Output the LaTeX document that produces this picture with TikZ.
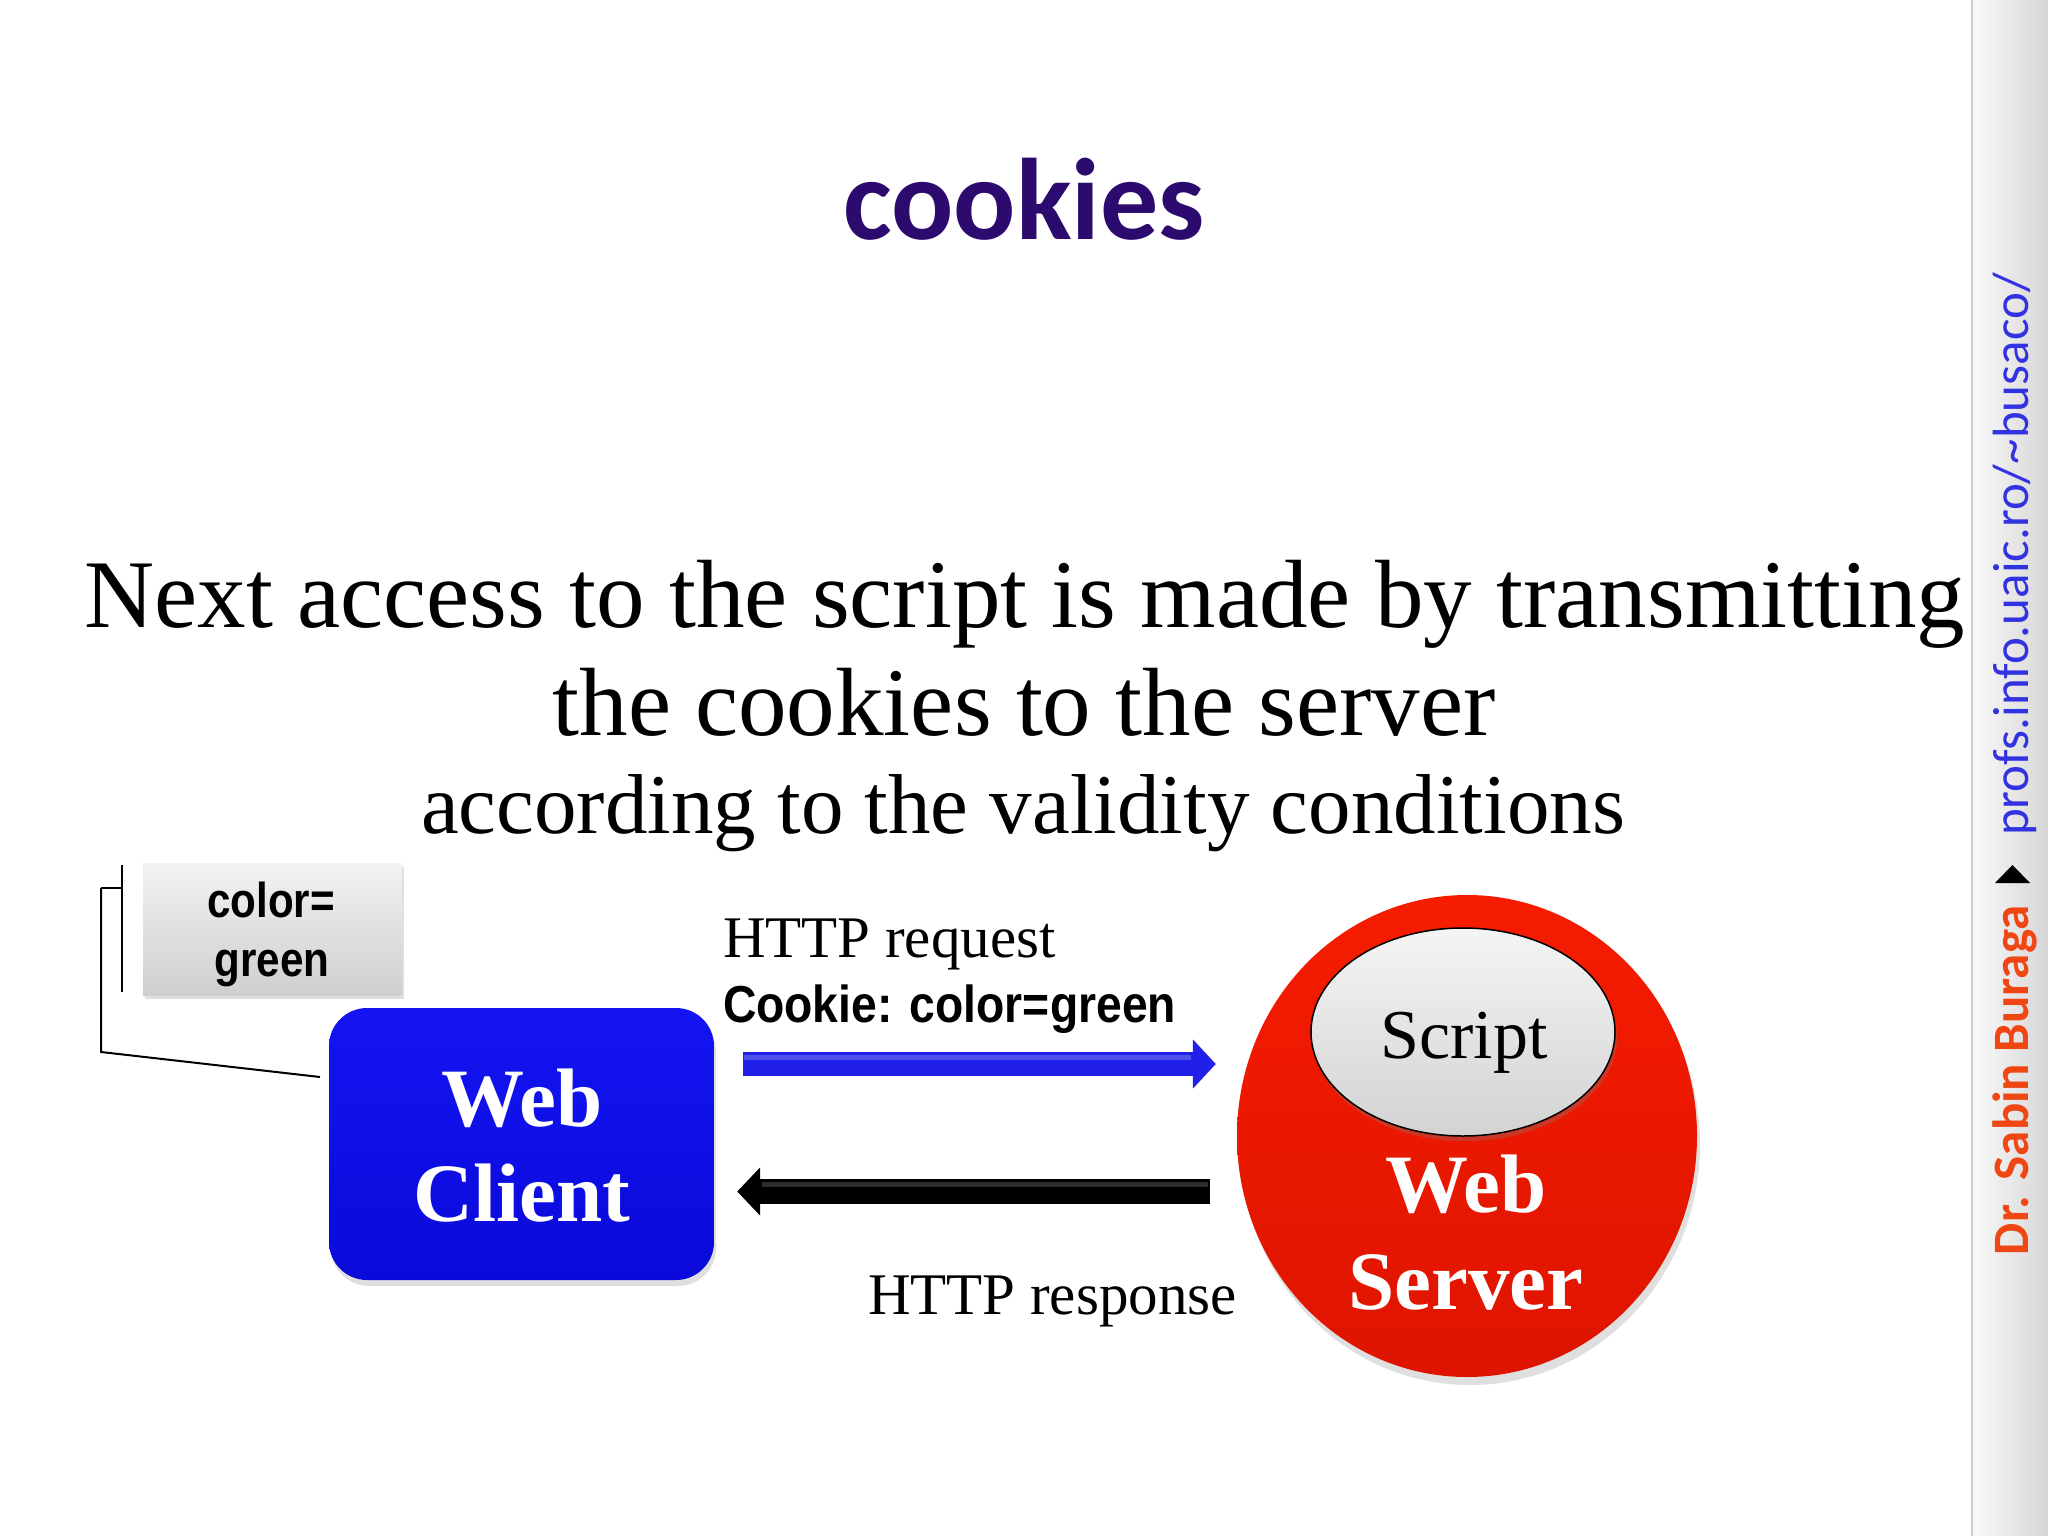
\documentclass[tikz,border=0pt]{standalone}
\usepackage{fontspec}
\usepackage{graphicx}
\setmainfont{Liberation Serif}
\newfontfamily\arialf{Liberation Sans}
\newfontfamily\calf{Carlito}
\usetikzlibrary{shapes.geometric,arrows.meta,shadows,calc}
\definecolor{titlec}{RGB}{44,10,110}
\definecolor{clientblue}{RGB}{20,20,242}
\definecolor{clientblue2}{RGB}{10,10,218}
\definecolor{serverred}{RGB}{246,28,0}
\definecolor{serverred2}{RGB}{222,20,0}
\definecolor{arrblue}{RGB}{32,32,232}
\definecolor{sborange}{RGB}{240,70,20}
\definecolor{sbblue}{RGB}{50,50,226}
\newcommand\myfs[1]{\fontsize{#1}{#1}\selectfont}
\begin{document}
\begin{tikzpicture}[x=1pt,y=-1pt,
  txt/.style={inner sep=0pt, outer sep=0pt, anchor=base},
  cookiebox/.style={rectangle, inner sep=0pt, top color=gray!10, bottom color=gray!38,
    drop shadow={opacity=0.25, shadow xshift=2pt, shadow yshift=-4pt}},
  clientbox/.style={rectangle, rounded corners=38pt, inner sep=0pt,
    top color=clientblue, bottom color=clientblue2,
    drop shadow={opacity=0.25, shadow xshift=2pt, shadow yshift=-6pt}},
  serverball/.style={ellipse, inner sep=0pt, top color=serverred, bottom color=serverred2,
    drop shadow={opacity=0.25, shadow xshift=3pt, shadow yshift=-8pt}},
  scriptball/.style={ellipse, inner sep=0pt, draw=black, line width=1.5pt,
    top color=gray!8, bottom color=gray!35,
    drop shadow={opacity=0.3, shadow xshift=2pt, shadow yshift=-5pt}},
  callout/.style={draw=black, line width=2pt},
  bigserif/.style={font=\myfs{97}},
  whitebold/.style={font=\bfseries\myfs{83}, text=white},
  label/.style={font=\myfs{59}},
  gleam/.style={line width=5pt, line cap=butt},
]
\useasboundingbox (0,0) rectangle (2048,1536);
\fill[white] (0,0) rectangle (2048,1536);

% side strip
\shade[left color=gray!4, right color=gray!32] (1972,0) rectangle (2048,1536);
\draw[gray!40, line width=1.5pt] (1972,0) -- (1972,1536);
\node[txt, anchor=base west, rotate=90, font=\calf\bfseries\myfs{51}, text=sborange] (sb1) at (2028,1255) {Dr. Sabin Buraga};
\fill[black] (1995,883) -- (2030,883) -- (2012.5,865) -- cycle;
\node[txt, anchor=base east, rotate=90, font=\calf\myfs{51}, text=sbblue] (sb2) at (2028,273) {profs.info.uaic.ro/\textasciitilde busaco/};

% title and texts
\node[txt, font=\calf\bfseries\myfs{116}, text=titlec] (title) at (1024,239) {cookies};
\node[txt, bigserif] (l1) at (1025,627) {Next access to the script is made by transmitting};
\node[txt, bigserif] (l2) at (1024,735) {the cookies to the server};
\node[txt, font=\myfs{85}] (l3) at (1023,833) {according to the validity conditions};

% cookie box
\node[cookiebox, minimum width=259pt, minimum height=132pt] (cbox) at (272.5,929) {};
\node[txt, font=\arialf\bfseries\myfs{49}] (c1) at (271,917) {\scalebox{0.86}[1]{color=}};
\node[txt, font=\arialf\bfseries\myfs{49}] (c2) at (272,976) {\scalebox{0.86}[1]{green}};

% client
\node[clientbox, minimum width=385pt, minimum height=272pt] (client) at (521.5,1144) {};
\node[txt, whitebold] (cw) at (522,1126) {Web};
\node[txt, whitebold] (cc) at (522,1221) {Client};

% callout lines
\coordinate (b1) at (122,865);
\coordinate (b2) at (122,992);
\coordinate (b3) at (101,888);
\coordinate (b4) at (101,1052);
\coordinate (b5) at (320,1077);
\draw[callout] (b1) -- (b2);
\draw[callout] (b3) -- (b1 |- b3);
\draw[callout] (b3) -- (b4) -- (b5);

% server
\node[serverball, minimum width=460pt, minimum height=482pt] (server) at (1467,1136) {};
\node[scriptball, minimum width=304pt, minimum height=208pt] (script) at (1463,1032) {};
\node[txt, font=\myfs{70}] (st) at (1464,1058) {Script};
\node[txt, whitebold] (sw) at (1466,1212) {Web};
\node[txt, whitebold] (ss) at (1466,1309) {Server};

% arrows
\coordinate (reqy) at (0,1064);
\coordinate (reqh) at (0,1057);
\coordinate (resy) at (0,1191.5);
\coordinate (resh) at (0,1184);
\draw[line width=24pt, color=arrblue, -{Triangle[width=48pt,length=23pt]},
  shorten <=29pt, shorten >=21pt] (client.east |- reqy) -- (server.west |- reqy);
\draw[gleam, color=white, opacity=0.22, shorten <=30pt, shorten >=46pt]
  (client.east |- reqh) -- (server.west |- reqh);
\draw[line width=25pt, color=black, {Triangle[width=47pt,length=23pt]}-,
  shorten <=23pt, shorten >=27pt] (client.east |- resy) -- (server.west |- resy);
\draw[gleam, color=white, opacity=0.18, shorten <=48pt, shorten >=29pt]
  (client.east |- resh) -- (server.west |- resh);

% labels
\node[txt, anchor=base west, label] (req) at (723,957) {HTTP request};
\node[txt, anchor=base west, font=\arialf\bfseries\myfs{52}] (ck) at (723,1022) {\scalebox{0.89}[1]{Cookie: color=green}};
\node[txt, anchor=base west, label] (resp) at (868,1314) {HTTP response};
\end{tikzpicture}
\end{document}
